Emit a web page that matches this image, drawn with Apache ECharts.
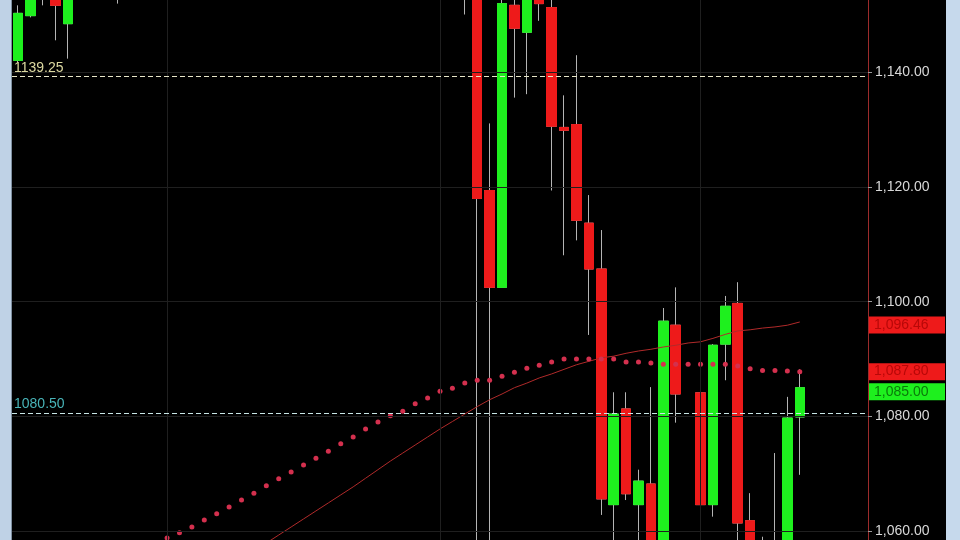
<!DOCTYPE html>
<html><head><meta charset="utf-8">
<script src="https://cdn.jsdelivr.net/npm/echarts@6/dist/echarts.min.js"></script>
<style>html,body{margin:0;padding:0;background:#000;overflow:hidden}#c{width:960px;height:540px}</style>
</head><body><div id="c"></div>
<script>
// ---- data ----
const slotCount = 69;
const categories = Array.from({length: slotCount}, (_, i) => 'Bar ' + (i + 1));

// candles: index 0..63 ; null = not visible / no bar
const opens  = [1142.1,1149.9,1156.0,1153.0,1148.5,null,null,null,1156.0,null,
                null,null,null,null,null,null,null,null,null,null,
                null,null,null,null,null,null,null,null,null,null,
                null,null,null,null,null,null,1156.0,1158.0,1119.4,1102.5,
                1151.7,1147.0,1153.5,1151.3,1130.4,1130.9,1113.7,1105.7,1064.6,1081.3,
                1064.6,1068.2,1056.0,1095.9,null,1084.1,1064.6,1092.6,1099.7,1061.8,
                1055.0,1050.0,1056.0,1079.9];
const closes = [1150.3,1154.0,1155.0,1151.7,1154.5,null,null,null,1157.0,null,
                null,null,null,null,null,null,null,null,null,null,
                null,null,null,null,null,null,null,null,null,null,
                null,null,null,null,null,null,1158.0,1118.0,1102.5,1152.0,
                1147.7,1153.5,1152.0,1130.6,1129.9,1114.2,1105.7,1065.6,1080.4,1066.5,
                1068.7,1055.0,1096.6,1083.9,null,1064.6,1092.4,1099.2,1061.4,1054.0,
                1054.0,1056.0,1079.7,1085.0];
const lows   = [1141.7,1149.6,1151.7,1145.6,1142.4,null,null,null,1152.0,null,
                null,null,null,null,null,null,null,null,null,null,
                null,null,null,null,null,null,null,null,null,null,
                null,null,null,null,null,null,1150.1,1050.0,1050.0,1102.5,
                1135.6,1136.2,1149.0,1119.4,1108.1,1110.7,1094.2,1062.8,1055.0,1065.4,
                1055.0,1052.0,1054.0,1078.9,null,1064.0,1062.5,1086.3,1054.0,1050.0,
                1052.0,1048.0,1054.0,1069.8];
const highs  = [1151.7,1156.0,1158.0,1155.0,1156.0,null,null,null,1159.0,null,
                null,null,null,null,null,null,null,null,null,null,
                null,null,null,null,null,null,null,null,null,null,
                null,null,null,null,null,null,1160.0,1160.0,1131.1,1153.5,
                1154.0,1155.0,1155.0,1153.0,1136.0,1143.0,1118.6,1112.5,1084.2,1084.2,
                1070.7,1085.1,1098.9,1102.5,null,1091.9,1092.6,1101.0,1103.4,1066.6,
                1059.0,1073.6,1083.4,1088.2];

// solid moving average (index 20..63)
const maLine = [null,null,null,null,null,null,null,null,null,null,
                null,null,null,null,null,null,null,null,null,null,
                1057.9,1059.3,1060.7,1062.1,1063.5,1064.9,1066.3,1067.7,1069.2,1070.7,
                1072.2,1073.6,1075.0,1076.4,1077.8,1079.1,1080.4,1081.7,1082.9,1083.9,
                1085.0,1085.8,1086.7,1087.4,1088.2,1089.0,1089.6,1090.2,1090.5,1091.0,
                1091.4,1091.7,1092.1,1092.4,1092.8,1093.0,1093.6,1094.3,1094.9,1095.1,
                1095.4,1095.6,1095.9,1096.46];

// dotted average (index 12..63)
const dotLine = [null,null,null,null,null,null,null,null,null,null,
                 null,null,1058.8,1059.7,1060.7,1061.9,1063.0,1064.2,1065.4,1066.6,
                 1067.9,1069.1,1070.3,1071.5,1072.7,1073.9,1075.2,1076.4,1077.8,1079.0,
                 1080.1,1080.9,1082.2,1083.2,1084.4,1084.9,1085.8,1086.3,1086.3,1087.0,
                 1087.7,1088.4,1088.9,1089.5,1090.0,1090.0,1090.0,1090.0,1090.0,1089.5,
                 1089.5,1089.3,1089.1,1089.1,1089.1,1089.1,1089.1,1089.1,1088.8,1088.3,
                 1088.0,1088.0,1087.9,1087.8];

const yTicks = [1060, 1080, 1100, 1120, 1140];
const levelHigh = 1139.25;
const levelLow = 1080.50;
const vGridBars = [12, 34, 55];

// ---- build ----
const pad = a => a.concat(Array(slotCount - a.length).fill(null));
const O = pad(opens), C = pad(closes), L = pad(lows), H = pad(highs);
const wickData = O.map((o, i) => o == null ? '-' : [o, C[i], L[i], H[i]]);
const bodyData = O.map((o, i) => o == null ? '-' : [o, C[i], Math.min(o, C[i]), Math.max(o, C[i])]);
const toSeries = a => pad(a).map(v => v == null ? '-' : v);
const fmt = v => Number(v).toLocaleString('en-US', {minimumFractionDigits: 2, maximumFractionDigits: 2});

const GREEN = '#1ef01e', RED = '#ee1a1a', WICK = '#b4b4b4';
const FONT = 'Liberation Sans, Arial, sans-serif';

function tag(value, bg, fg, dy) {
  return {
    yAxis: value,
    lineStyle: {color: 'rgba(0,0,0,0)', width: 0},
    label: {
      show: true, position: 'end', distance: 1, formatter: fmt(value),
      backgroundColor: bg, color: fg, fontFamily: FONT, fontSize: 14,
      width: 66, lineHeight: 14, padding: [2, 5, 1, 5], align: 'left', offset: [0, dy || 0]
    }
  };
}

const chart = echarts.init(document.getElementById('c'));
chart.setOption({
  backgroundColor: '#000',
  animation: false,
  grid: {left: 12, right: 92, top: 0, bottom: 0},
  xAxis: {
    type: 'category', data: categories, boundaryGap: true,
    axisLine: {show: false}, axisTick: {show: false}, axisLabel: {show: false}, splitLine: {show: false}
  },
  yAxis: {
    type: 'value', position: 'right', min: 1058.43, max: 1152.63, scale: true,
    axisLine: {show: true, lineStyle: {color: '#9c2b2b', width: 1}},
    axisTick: {show: true, length: 4, lineStyle: {color: '#9a9a9a'}, customValues: yTicks},
    axisLabel: {customValues: yTicks, formatter: fmt, color: '#d8d8d8', fontFamily: FONT, fontSize: 14, margin: 7},
    splitLine: {show: false}
  },
  graphic: [
    {type: 'rect', left: 0, top: 0, shape: {width: 11, height: 540}, style: {fill: '#bfd2e6'}, z: 100},
    {type: 'rect', left: 11, top: 0, shape: {width: 1, height: 540}, style: {fill: '#7e8fa0'}, z: 100},
    {type: 'rect', left: 946, top: 0, shape: {width: 14, height: 540}, style: {fill: '#c6d9ec'}, z: 100}
  ],
  series: [
    {
      name: 'grid', type: 'line', data: [], z: 1, silent: true,
      markLine: {
        silent: true, symbol: ['none', 'none'], animation: false,
        label: {show: false},
        lineStyle: {color: '#1f1f1f', type: 'solid', width: 1},
        data: yTicks.map(v => ({yAxis: v})).concat(vGridBars.map(i => ({xAxis: categories[i]})))
      }
    },
    {
      name: 'wicks', type: 'candlestick', data: wickData, barWidth: 10, z: 2,
      itemStyle: {color: WICK, color0: WICK, borderColor: WICK, borderColor0: WICK, borderWidth: 1}
    },
    {
      name: 'bodies', type: 'candlestick', data: bodyData, barWidth: 10, z: 3,
      itemStyle: {color: GREEN, color0: RED, borderColor: GREEN, borderColor0: RED, borderWidth: 1},
      markLine: {
        silent: true, symbol: ['none', 'none'], animation: false,
        data: [tag(closes[closes.length - 1], GREEN, '#0a7a0a', 4)]
      }
    },
    {
      name: 'MA', type: 'line', data: toSeries(maLine), z: 4, showSymbol: false, connectNulls: false,
      lineStyle: {color: '#b02a2a', width: 1}, itemStyle: {color: '#b02a2a'},
      markLine: {
        silent: true, symbol: ['none', 'none'], animation: false,
        data: [tag(maLine[maLine.length - 1], RED, '#b80808', 3)]
      }
    },
    {
      name: 'MA dots', type: 'line', data: toSeries(dotLine), z: 4, showSymbol: true, symbol: 'circle', symbolSize: 5,
      lineStyle: {opacity: 0, width: 0}, itemStyle: {color: '#d4304e'},
      markLine: {
        silent: true, symbol: ['none', 'none'], animation: false,
        data: [tag(dotLine[dotLine.length - 1], RED, '#b80808', 0)]
      }
    },
    {
      name: 'levels', type: 'line', data: [], z: 5, silent: true,
      markLine: {
        silent: true, symbol: ['none', 'none'], animation: false,
        data: [
          {yAxis: levelHigh, lineStyle: {color: '#e8e6c8', type: [5, 3], width: 1},
           label: {show: true, position: 'insideStartTop', distance: [2, 2], formatter: levelHigh.toFixed(2), color: '#dcd8a0', fontFamily: FONT, fontSize: 14}},
          {yAxis: levelLow, lineStyle: {color: '#c8e6e6', type: [5, 3], width: 1},
           label: {show: true, position: 'insideStartTop', distance: [2, 2], formatter: levelLow.toFixed(2), color: '#48b4b8', fontFamily: FONT, fontSize: 14}}
        ]
      }
    }
  ]
});
</script>
</body></html>
